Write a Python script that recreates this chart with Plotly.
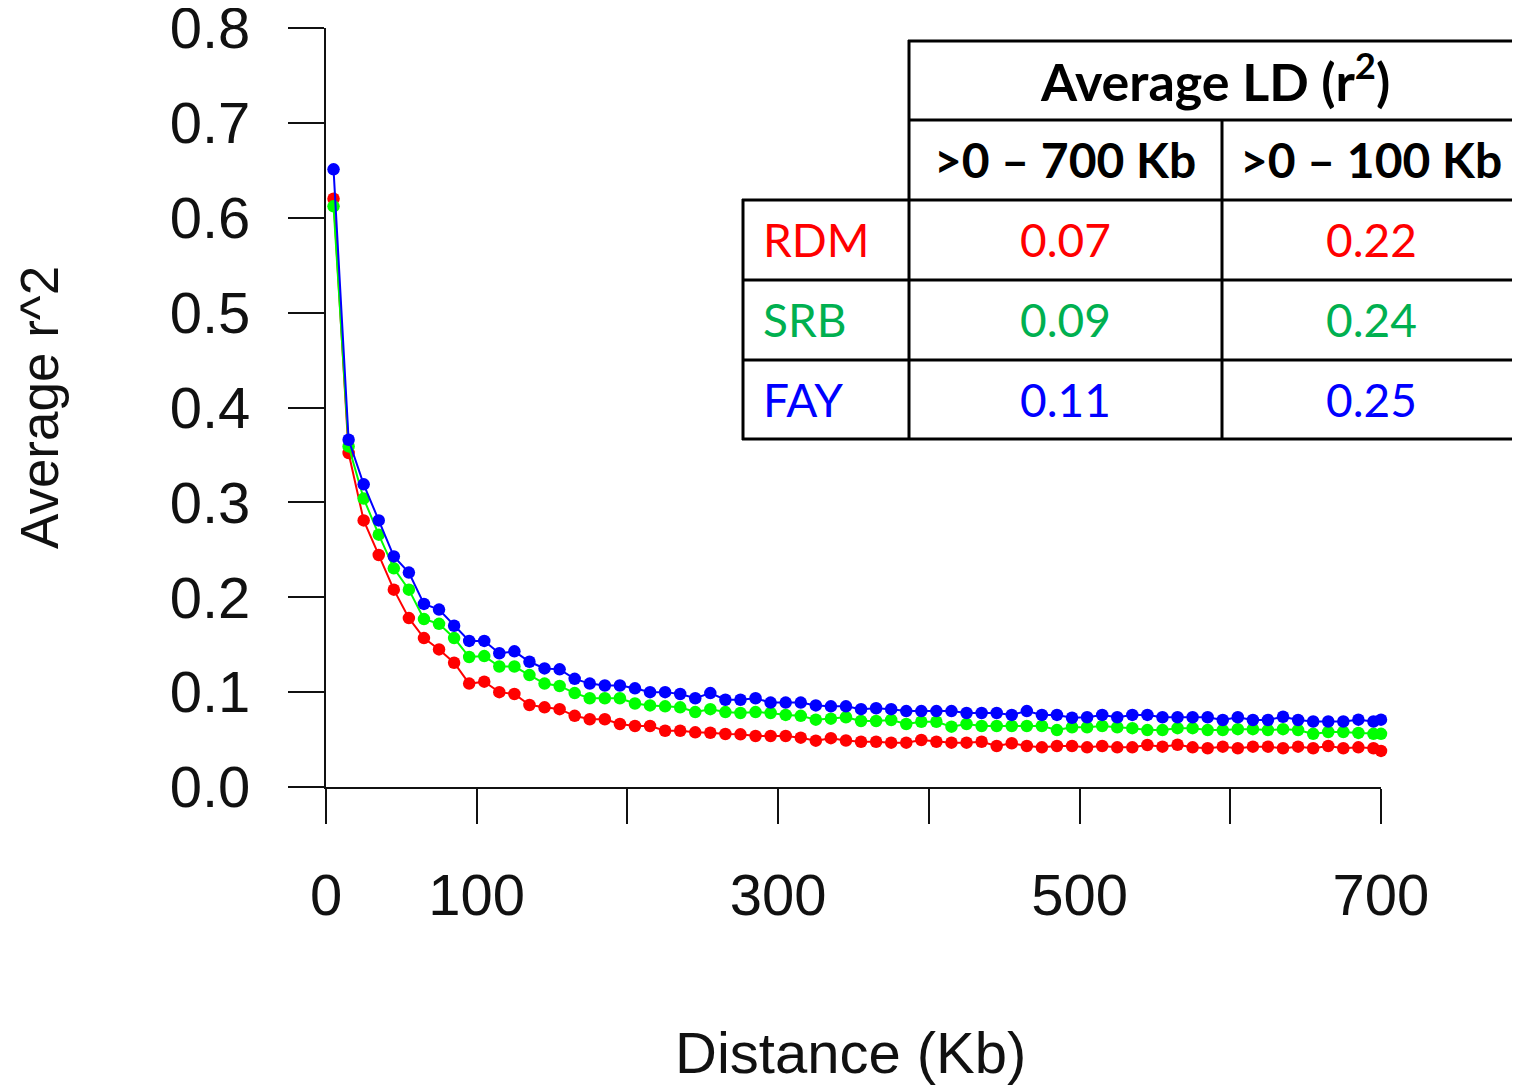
import plotly.graph_objects as go

# ---------------- data ----------------
distance_kb = [5, 15, 25, 35, 45, 55, 65, 75, 85, 95,
               105, 115, 125, 135, 145, 155, 165, 175, 185, 195,
               205, 215, 225, 235, 245, 255, 265, 275, 285, 295,
               305, 315, 325, 335, 345, 355, 365, 375, 385, 395,
               405, 415, 425, 435, 445, 455, 465, 475, 485, 495,
               505, 515, 525, 535, 545, 555, 565, 575, 585, 595,
               605, 615, 625, 635, 645, 655, 665, 675, 685, 695, 700]

rdm_r2 = [0.620, 0.352, 0.281, 0.2445, 0.208, 0.178, 0.157, 0.145, 0.131, 0.109,
          0.111, 0.100, 0.098, 0.0864, 0.084, 0.082, 0.075, 0.0714, 0.0714, 0.0664,
          0.0643, 0.0643, 0.0593, 0.0593, 0.0576, 0.0572, 0.0559, 0.0555, 0.0538, 0.0538,
          0.0538, 0.052, 0.0488, 0.0515, 0.049, 0.0477, 0.0477, 0.0467, 0.0467, 0.0495,
          0.0477, 0.0467, 0.0467, 0.0477, 0.0432, 0.0461, 0.0432, 0.0418, 0.0432, 0.0432,
          0.0418, 0.0432, 0.0418, 0.0418, 0.0443, 0.0425, 0.0445, 0.0418, 0.0408, 0.0425,
          0.0408, 0.0425, 0.0425, 0.0408, 0.0425, 0.0408, 0.0432, 0.0408, 0.0418, 0.0408, 0.038]

srb_r2 = [0.612, 0.359, 0.304, 0.266, 0.2305, 0.208, 0.177, 0.172, 0.157, 0.137,
          0.138, 0.127, 0.127, 0.118, 0.109, 0.1065, 0.099, 0.0935, 0.0935, 0.0935,
          0.088, 0.086, 0.085, 0.084, 0.079, 0.082, 0.079, 0.078, 0.079, 0.078,
          0.076, 0.075, 0.071, 0.072, 0.0735, 0.0696, 0.0696, 0.0706, 0.0664, 0.0688,
          0.0688, 0.0636, 0.0664, 0.0643, 0.0643, 0.0643, 0.0643, 0.0643, 0.060, 0.063,
          0.063, 0.0643, 0.063, 0.062, 0.060, 0.060, 0.062, 0.062, 0.060, 0.060,
          0.061, 0.061, 0.060, 0.061, 0.060, 0.056, 0.058, 0.058, 0.057, 0.056, 0.056]

fay_r2 = [0.651, 0.366, 0.319, 0.281, 0.243, 0.226, 0.193, 0.187, 0.170, 0.154,
          0.154, 0.141, 0.143, 0.132, 0.125, 0.124, 0.114, 0.109, 0.107, 0.107,
          0.104, 0.100, 0.100, 0.098, 0.0935, 0.099, 0.092, 0.092, 0.0935, 0.089,
          0.089, 0.089, 0.086, 0.085, 0.085, 0.082, 0.083, 0.082, 0.080, 0.080,
          0.080, 0.080, 0.078, 0.078, 0.078, 0.076, 0.080, 0.076, 0.076, 0.073,
          0.0735, 0.076, 0.0735, 0.076, 0.076, 0.0735, 0.0735, 0.0735, 0.0735, 0.0706,
          0.0735, 0.0706, 0.0706, 0.074, 0.0706, 0.069, 0.069, 0.069, 0.071, 0.069, 0.071]

x_label_vals = [0, 100, 300, 500, 700]          # labelled ticks
x_unlabelled_vals = [200, 400, 600]            # ticks drawn without labels
y_tick_vals = [0.0, 0.1, 0.2, 0.3, 0.4, 0.5, 0.6, 0.7, 0.8]

table_title = "Average LD (r<sup>2</sup>)"
table_cols = [">0 – 700 Kb", ">0 – 100 Kb"]
table_pops = ["RDM", "SRB", "FAY"]
table_700 = ["0.07", "0.09", "0.11"]
table_100 = ["0.22", "0.24", "0.25"]
table_colors = ["#FF0000", "#00B050", "#0000FF"]

# ---------------- figure ----------------
OFF = 8  # page body margin of the html page
W, H = 1520 - OFF, 1085 - OFF
# plot area in page pixels
L, R, T, B = 326, 1381, 28, 787


def px(xp):
    return (xp - L) / (R - L)


def py(yp):
    return (B - yp) / (B - T)


fig = go.Figure()
series = [("RDM", rdm_r2, "#FF0000"), ("SRB", srb_r2, "#00FF00"), ("FAY", fay_r2, "#0000FF")]
for name, vals, col in series:
    fig.add_trace(go.Scatter(
        x=distance_kb, y=vals, mode="lines+markers", name=name,
        line=dict(color=col, width=2),
        marker=dict(color=col, size=12.5, symbol="circle"),
        cliponaxis=False, showlegend=False))

tick_font = dict(family="Liberation Sans, Arial, sans-serif", size=58, color="#111111")

fig.update_layout(
    width=W, height=H,
    margin=dict(l=L - OFF, r=(1520 - R), t=T - OFF, b=(1085 - B), pad=0, autoexpand=False),
    paper_bgcolor="white", plot_bgcolor="white",
    xaxis=dict(range=[0, 700], tickmode="array", tickvals=x_label_vals,
               ticktext=[str(v) for v in x_label_vals],
               showline=True, linecolor="#111111", linewidth=2,
               ticks="outside", ticklen=35, tickwidth=2, tickcolor="#111111",
               minor=dict(tickmode="array", tickvals=x_unlabelled_vals, ticks="outside",
                          ticklen=35, tickwidth=2, tickcolor="#111111", showgrid=False),
               showgrid=False, zeroline=False, tickfont=tick_font, automargin=False,
               ticklabelstandoff=21, ticklabeloverflow="allow"),
    yaxis=dict(range=[0, 0.8], tickvals=y_tick_vals, tickformat=".1f",
               showline=True, linecolor="#111111", linewidth=2,
               ticks="outside", ticklen=36, tickwidth=2, tickcolor="#111111",
               showgrid=False, zeroline=False, tickfont=tick_font, automargin=False,
               ticklabelstandoff=26, ticklabeloverflow="allow"),
)

annotations = []
# axis titles
annotations.append(dict(text="Distance (Kb)", xref="paper", yref="paper",
                        x=px(850), y=py(1052), showarrow=False,
                        font=dict(family="Liberation Sans, Arial, sans-serif", size=58, color="#111111"),
                        xanchor="center", yanchor="middle"))
annotations.append(dict(text="Average r^2", xref="paper", yref="paper",
                        x=px(40), y=py(408), showarrow=False, textangle=-90,
                        font=dict(family="Liberation Sans, Arial, sans-serif", size=53, color="#111111"),
                        xanchor="center", yanchor="middle"))

# table text
annotations.append(dict(text="<b>" + table_title + "</b>", xref="paper", yref="paper",
                        x=px(1215), y=py(77), showarrow=False,
                        font=dict(family="Lato, sans-serif", size=52, color="black"),
                        xanchor="center", yanchor="middle"))
col_centers = [1065, 1371]
for c, txt in zip(col_centers, table_cols):
    annotations.append(dict(text="<b>" + txt + "</b>", xref="paper", yref="paper",
                            x=px(c), y=py(159), showarrow=False,
                            font=dict(family="Lato, sans-serif", size=48, color="black"),
                            xanchor="center", yanchor="middle"))
row_centers = [240, 320, 400]
for rc, pop, v7, v1, colr in zip(row_centers, table_pops, table_700, table_100, table_colors):
    f = dict(family="Lato, sans-serif", size=46, color=colr)
    annotations.append(dict(text=pop, xref="paper", yref="paper", x=px(761), y=py(rc),
                            showarrow=False, font=f, xanchor="left", yanchor="middle"))
    annotations.append(dict(text=v7, xref="paper", yref="paper", x=px(col_centers[0]), y=py(rc),
                            showarrow=False, font=f, xanchor="center", yanchor="middle"))
    annotations.append(dict(text=v1, xref="paper", yref="paper", x=px(col_centers[1]), y=py(rc),
                            showarrow=False, font=f, xanchor="center", yanchor="middle"))

fig.update_layout(annotations=annotations)

# table grid lines
shapes = []
lw = 3


def hline(y, x0, x1):
    shapes.append(dict(type="line", xref="paper", yref="paper", x0=px(x0), x1=px(x1),
                       y0=py(y), y1=py(y), line=dict(color="black", width=lw)))


def vline(x, y0, y1):
    shapes.append(dict(type="line", xref="paper", yref="paper", x0=px(x), x1=px(x),
                       y0=py(y0), y1=py(y1), line=dict(color="black", width=lw)))


hline(41, 908, 1530)
hline(120, 908, 1530)
for yy in [200, 280, 360, 439]:
    hline(yy, 742, 1530)
vline(743, 199, 440)
vline(909, 40, 440)
vline(1222, 119, 440)
fig.update_layout(shapes=shapes)

fig.write_html("out.html")
